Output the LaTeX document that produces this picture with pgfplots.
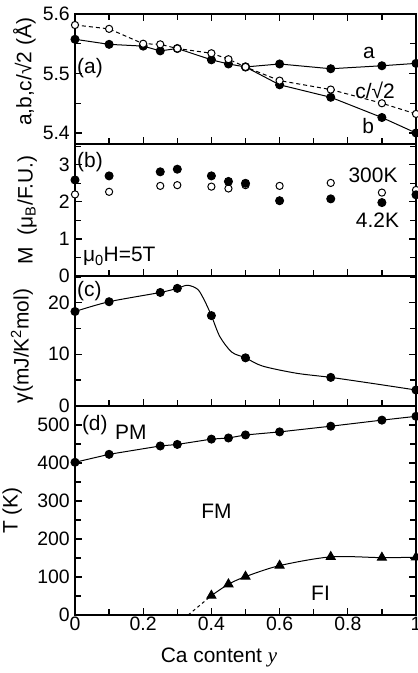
\documentclass[border=0pt]{standalone}
\usepackage{pgfplots}
\pgfplotsset{compat=1.18}
\usepackage{fontspec}
\setmainfont{Liberation Sans}
\newfontfamily\seriffont{Liberation Serif}

\tikzset{lbl/.style={font=\fontsize{21}{24}\selectfont, inner sep=0pt}}
\pgfplotsset{
 panel/.style={
  scale only axis, width=341bp, xmin=0, xmax=1,
  xtick={0,0.2,0.4,0.6,0.8,1}, minor xtick={0.1,0.3,0.5,0.7,0.9},
  tick align=inside, ytick pos=both,
  axis line style={line width=1.8bp},
  major tick style={line width=1.2bp, black},
  minor tick style={line width=1.2bp, black},
  major tick length=7bp, minor tick length=6bp,
  /pgf/number format/assume math mode=true,
  tick label style={font=\fontsize{19.5}{22}\selectfont},
  label style={font=\fontsize{21}{24}\selectfont},
  yticklabel style={inner sep=0pt, xshift=-5bp},
  xticklabel style={inner sep=0pt, yshift=-2bp},
  ylabel style={anchor=south, inner sep=0pt},
  clip=false,
 },
 fil/.style={black, line width=1bp, mark=*, mark size=4bp, mark options={solid, fill=black}},
 opn/.style={black, line width=1bp, mark=*, mark size=3.6bp, mark options={solid, fill=white, line width=1bp}},
}

\begin{document}
\begin{tikzpicture}
% ---------- (d) ----------
\begin{axis}[panel, at={(0,0)}, anchor=south west, height=209.3bp,
  ymin=0, ymax=551, ytick={0,100,200,300,400,500},
  minor ytick={50,150,250,350,450,550}, xtick pos=bottom,
  ylabel={T (K)}, ylabel style={at={(axis description cs:-0.155,0.5)}},
  xlabel={Ca content {\seriffont\itshape y}},
  xlabel style={at={(axis description cs:0.4223,-0.158)}, anchor=north, inner sep=0pt}]
\addplot[fil] coordinates {(0,402)(0.1,423)(0.25,445)(0.3,449)(0.4,463)(0.45,466)(0.5,474)(0.6,482)(0.75,497)(0.9,513)(1,523)};
\addplot[black, line width=1bp, dash pattern=on 3bp off 3bp] coordinates {(0.332,0)(0.4,51)};
\addplot[black, line width=1bp, smooth, mark=triangle*, mark size=5.2bp, mark options={solid, fill=black}] coordinates {(0.4,51)(0.45,81)(0.5,101)(0.6,130)(0.75,153)(0.9,151)(1,152)};
\node[lbl, anchor=west] at (axis cs:0.02,500) {(d)};
\node[lbl] at (axis cs:0.164,482) {PM};
\node[lbl] at (axis cs:0.415,272) {FM};
\node[lbl] at (axis cs:0.72,57) {FI};
\end{axis}
% ---------- (c) ----------
\begin{axis}[panel, at={(0,209.3bp)}, anchor=south west, height=129.7bp,
  ymin=0, ymax=25.2, ytick={0,10,20}, minor ytick={5,15,25}, xtick pos=bottom,
  xticklabels={},
  ylabel={γ(mJ/K\textsuperscript{2}mol)}, ylabel style={at={(axis description cs:-0.123,0.46)}}]
\addplot[black, line width=1bp, smooth] coordinates {(0,18.3)(0.1,20.2)(0.25,22.0)(0.3,22.8)(0.33,23.4)(0.36,22.6)(0.38,20.4)(0.4,17.5)(0.425,13.4)(0.46,10.4)(0.5,9.3)(0.55,7.7)(0.65,6.3)(0.75,5.5)(0.875,4.3)(1,3.05)};
\addplot[fil, only marks] coordinates {(0,18.3)(0.1,20.2)(0.25,22.0)(0.3,22.8)(0.4,17.5)(0.5,9.3)(0.75,5.5)(1,3.05)};
\node[lbl, anchor=west] at (axis cs:0.006,22.2) {(c)};
\end{axis}
% ---------- (b) ----------
\begin{axis}[panel, at={(0,339bp)}, anchor=south west, height=132bp,
  ymin=0, ymax=3.56, ytick={0,1,2,3}, minor ytick={0.5,1.5,2.5,3.5}, xtick pos=bottom,
  xticklabels={},
  ylabel={M\ \ (μ\textsubscript{B}/F.U.)}, ylabel style={at={(axis description cs:-0.111,0.5)}}]
\addplot[opn, only marks] coordinates {(0,2.20)(0.1,2.27)(0.25,2.43)(0.3,2.45)(0.4,2.41)(0.45,2.36)(0.5,2.45)(0.6,2.43)(0.75,2.51)(0.9,2.25)(1,2.32)};
\addplot[fil, only marks] coordinates {(0,2.59)(0.1,2.70)(0.25,2.81)(0.3,2.88)(0.4,2.70)(0.45,2.55)(0.5,2.50)(0.6,2.03)(0.75,2.08)(0.9,1.98)(1,2.19)};
\node[lbl, anchor=west] at (axis cs:0.006,3.08) {(b)};
\node[lbl] at (axis cs:0.874,2.72) {300K};
\node[lbl] at (axis cs:0.887,1.51) {4.2K};
\node[lbl, anchor=west] at (axis cs:0.023,0.52) {μ\textsubscript{0}H=5T};
\end{axis}
% ---------- (a) ----------
\begin{axis}[panel, at={(0,471bp)}, anchor=south west, height=130bp,
  ymin=5.3815, ymax=5.6, ytick={5.4,5.5,5.6}, minor ytick={5.45,5.55}, xtick pos=both,
  xticklabels={},
  ylabel={a,b,c/√2 (Å)}, ylabel style={at={(axis description cs:-0.1144,0.554)}}]
\addplot[fil] coordinates {(0,5.5575)(0.1,5.549)(0.2,5.546)(0.25,5.538)(0.3,5.542)(0.4,5.523)(0.45,5.516)(0.5,5.511)(0.6,5.516)(0.75,5.508)(0.9,5.513)(1,5.517)};
\addplot[fil] coordinates {(0.5,5.511)(0.6,5.481)(0.75,5.460)(0.9,5.426)(1,5.400)};
\addplot[opn, dash pattern=on 4bp off 3bp] coordinates {(0,5.5815)(0.1,5.575)(0.2,5.550)(0.25,5.549)(0.3,5.542)(0.4,5.534)(0.45,5.524)(0.5,5.511)(0.6,5.488)(0.75,5.473)(0.9,5.450)(1,5.432)};
\node[lbl, anchor=west] at (axis cs:0.006,5.509) {(a)};
\node[lbl] at (axis cs:0.862,5.534) {a};
\node[lbl] at (axis cs:0.88,5.472) {c/√2};
\node[lbl] at (axis cs:0.86,5.411) {b};
\end{axis}
\pgfresetboundingbox
\path[use as bounding box] (-75bp,-58bp) rectangle (343bp,615bp);
\end{tikzpicture}
\end{document}
